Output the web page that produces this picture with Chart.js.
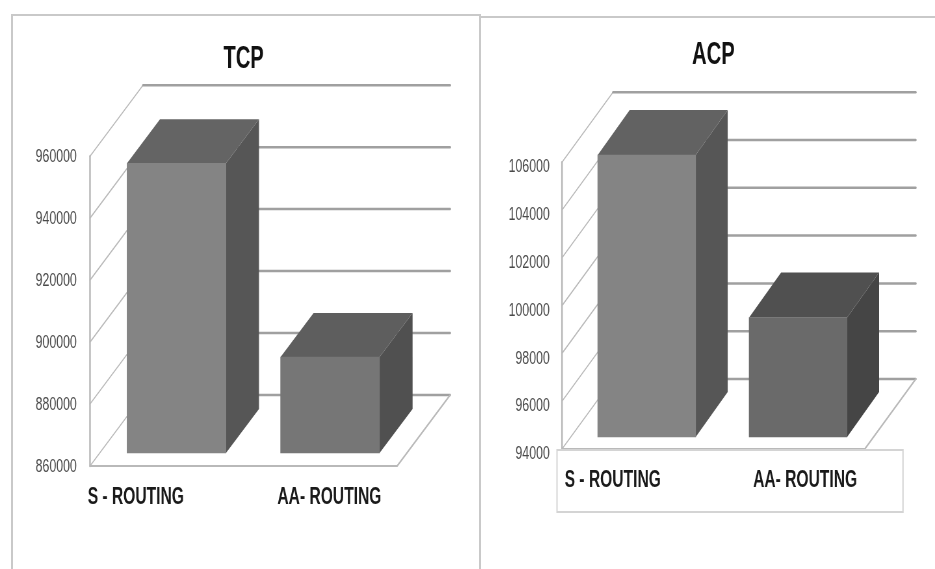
<!DOCTYPE html>
<html lang="en">
<head>
    <meta charset="UTF-8">
    <title>TCP and ACP</title>
    <script src="https://cdn.jsdelivr.net/npm/chart.js"></script>
    <style>
        html, body { margin: 0; padding: 0; background: #fff; overflow: hidden; }
        body { width: 935px; height: 569px; position: relative; }
        /* the reference text is squeezed sideways, so both canvases are drawn wide and scaled down */
        canvas { position: absolute; top: 0; transform: scaleX(0.65); transform-origin: 0 0; filter: blur(0.7px); }
        #tcpChart { left: 0; }
        #acpChart { left: 480px; }
        .frame { position: absolute; background: #c9c9c9; }
    </style>
</head>
<body>
    <div class="frame" style="left:11px;top:14px;width:2px;height:555px"></div>
    <div class="frame" style="left:11px;top:14px;width:468px;height:2px"></div>
    <div class="frame" style="left:479px;top:14px;width:2px;height:555px"></div>
    <div class="frame" style="left:481px;top:16px;width:454px;height:2px"></div>
    <canvas id="tcpChart" width="738" height="569"></canvas>
    <canvas id="acpChart" width="700" height="569"></canvas>

    <script>
        const categories = ["S - ROUTING", "AA- ROUTING"];
        const tcpValues = [953500, 891000];
        const acpValues = [105800, 99000];
        const tcpAxis = { min: 860000, max: 960000, step: 20000 };
        const acpAxis = { min: 94000, max: 106000, step: 2000 };

        const SQUEEZE = 0.65;
        const sx = px => px / SQUEEZE;

        // walls, floor, bar sides and category labels are drawn around the library's bars
        function box3d(cfg) {
            return {
                id: "box3d",
                beforeDatasetsDraw(chart) {
                    const { ctx, chartArea: area, scales: { y } } = chart;
                    const wx = sx(cfg.wall[0]), wy = cfg.wall[1];
                    ctx.save();
                    ctx.lineCap = "round";
                    y.ticks.forEach(t => {
                        const py = y.getPixelForValue(t.value);
                        ctx.strokeStyle = "#b9b9b9";
                        ctx.lineWidth = 1.5;
                        ctx.beginPath();
                        ctx.moveTo(area.left, py);
                        ctx.lineTo(area.left + wx, py + wy);
                        ctx.stroke();
                        ctx.strokeStyle = "#a0a0a0";
                        ctx.lineWidth = 2.5;
                        ctx.beginPath();
                        ctx.moveTo(area.left + wx, py + wy);
                        ctx.lineTo(area.right + wx, py + wy);
                        ctx.stroke();
                    });
                    // front edge of the side wall and the floor
                    ctx.strokeStyle = "#b9b9b9";
                    ctx.lineWidth = 2.5;
                    ctx.beginPath();
                    ctx.moveTo(area.left, area.top);
                    ctx.lineTo(area.left, area.bottom);
                    ctx.stroke();
                    ctx.lineWidth = 2;
                    ctx.beginPath();
                    ctx.moveTo(area.left, area.bottom);
                    ctx.lineTo(area.right, area.bottom);
                    ctx.lineTo(area.right + wx, area.bottom + wy);
                    ctx.stroke();
                    ctx.restore();

                    // the bars stand a little inside the floor
                    const dx = sx(cfg.depth[0]), dy = cfg.depth[1];
                    ctx.save();
                    ctx.translate(sx(cfg.inset[0]), cfg.inset[1]);
                    chart.getDatasetMeta(0).data.forEach((bar, i) => {
                        const l = bar.x - bar.width / 2, r = bar.x + bar.width / 2;
                        ctx.fillStyle = cfg.topColors[i];
                        ctx.beginPath();
                        ctx.moveTo(l, bar.y);
                        ctx.lineTo(l + dx, bar.y + dy);
                        ctx.lineTo(r + dx, bar.y + dy);
                        ctx.lineTo(r, bar.y);
                        ctx.fill();
                        ctx.fillStyle = cfg.sideColors[i];
                        ctx.beginPath();
                        ctx.moveTo(r, bar.y);
                        ctx.lineTo(r + dx, bar.y + dy);
                        ctx.lineTo(r + dx, bar.base + dy);
                        ctx.lineTo(r, bar.base);
                        ctx.fill();
                    });
                    // stays translated for the bars, undone in afterDatasetsDraw
                },
                afterDatasetsDraw(chart) {
                    chart.ctx.restore();
                },
                afterDraw(chart) {
                    const { ctx, scales: { x } } = chart;
                    ctx.save();
                    if (cfg.labelBox) {
                        const b = cfg.labelBox;
                        ctx.strokeStyle = "#d4d4d4";
                        ctx.lineWidth = 2;
                        ctx.strokeRect(sx(b[0]), b[1], sx(b[2]), b[3]);
                    }
                    ctx.fillStyle = "#1a1a1a";
                    ctx.font = "bold 24px 'Liberation Sans'";
                    ctx.textAlign = "center";
                    ctx.textBaseline = "middle";
                    categories.forEach((c, i) => {
                        ctx.fillText(x.getLabelForValue(i), x.getPixelForTick(i) + sx(cfg.labelShift[i]), cfg.labelY);
                    });
                    ctx.restore();
                }
            };
        }

        function drawChart(id, title, values, axis, cfg) {
            new Chart(document.getElementById(id), {
                type: "bar",
                data: {
                    labels: categories,
                    datasets: [{
                        data: values,
                        base: axis.min,
                        backgroundColor: cfg.frontColors,
                        barThickness: sx(cfg.barWidth),
                        clip: false
                    }]
                },
                options: {
                    responsive: false,
                    animation: false,
                    layout: { padding: { left: 0, right: cfg.padRight, top: 0, bottom: cfg.padBottom } },
                    plugins: {
                        legend: { display: false },
                        tooltip: { enabled: false },
                        title: {
                            display: true,
                            text: title,
                            fullSize: false,
                            color: "#111",
                            font: { family: "'Liberation Sans Narrow', 'Liberation Sans'", size: 31, weight: "bold", lineHeight: 1.2 },
                            padding: { top: cfg.titleTop, bottom: cfg.titleBottom }
                        }
                    },
                    scales: {
                        x: {
                            grid: { display: false },
                            border: { display: false },
                            ticks: { display: false },
                            afterFit(s) { s.height = 0; }
                        },
                        y: {
                            min: axis.min,
                            max: axis.max,
                            grid: { display: false },
                            border: { display: false },
                            ticks: {
                                stepSize: axis.step,
                                padding: sx(cfg.tickGap),
                                color: "#4a4a4a",
                                labelOffset: cfg.tickShift,
                                font: { family: "'Liberation Sans'", size: 19 },
                                callback: v => String(v)
                            },
                            afterFit(s) { s.width = sx(cfg.axisX); }
                        }
                    }
                },
                plugins: [box3d(cfg)]
            });
        }

        drawChart("tcpChart", "TCP", tcpValues, tcpAxis, {
            axisX: 90, padRight: 127, padBottom: 103,
            titleTop: 41, titleBottom: 78, tickShift: 1, tickGap: 8,
            wall: [53, -71], depth: [33, -44], inset: [9.7, -13], barWidth: 99,
            frontColors: ["#848484", "#767676"],
            topColors: ["#646464", "#5e5e5e"],
            sideColors: ["#565656", "#505050"],
            labelShift: [-31, 9], labelY: 497
        });

        drawChart("acpChart", "ACP", acpValues, acpAxis, {
            axisX: 82, padRight: 108, padBottom: 120,
            titleTop: 37, titleBottom: 88, tickShift: 5, tickGap: 7,
            wall: [51, -70], depth: [32, -45], inset: [9, -12], barWidth: 98,
            frontColors: ["#848484", "#6a6a6a"],
            topColors: ["#626262", "#505050"],
            sideColors: ["#565656", "#454545"],
            labelShift: [-25, 16], labelY: 480,
            labelBox: [77, 450, 346, 62]
        });
    </script>
</body>
</html>
